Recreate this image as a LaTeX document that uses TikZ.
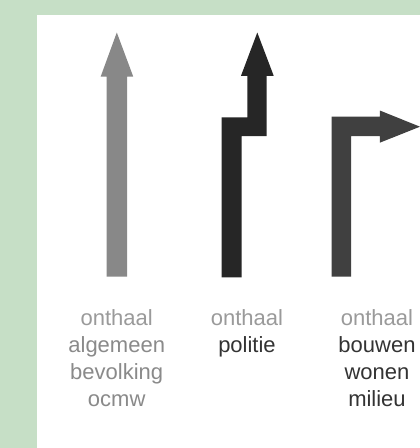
\documentclass[tikz,border=0pt]{standalone}
\usepackage{fontspec}
\setmainfont{Liberation Sans}
\definecolor{bggreen}{HTML}{C6DFC6}
\definecolor{arrowA}{HTML}{888888}
\definecolor{arrowB}{HTML}{262626}
\definecolor{arrowC}{HTML}{404040}
\definecolor{txtlight}{HTML}{9A9A9A}
\definecolor{txtmid}{HTML}{8A8A8A}
\definecolor{txtdark}{HTML}{333333}
\begin{document}
\begin{tikzpicture}[x=1pt,y=-1pt,
  lbl/.style={anchor=base,inner sep=0pt,font=\fontsize{22}{27}\selectfont},
  arr/.style={draw=none}]
\useasboundingbox (0,0) rectangle (420,448);
\fill[bggreen] (0,0) rectangle (420,448);
\fill[white] (36.7,14.7) rectangle (420,448);
% arrow 1
\fill[arrowA] (106.7,276.7) -- (106.7,76.5) -- (100.7,76.5) -- (116.8,32.5) -- (133.2,76.5) -- (127.2,76.5) -- (127.2,276.7) -- cycle;
% arrow 2
\fill[arrowB] (221.7,277.3) -- (221.7,117.3) -- (247.3,117.3) -- (247.3,75.8) -- (241,75.8) -- (257.3,32.5) -- (273.7,75.8) -- (266.7,75.8) -- (266.7,136) -- (241.7,136) -- (241.7,277.3) -- cycle;
% arrow 3
\fill[arrowC] (331.7,276.7) -- (331.7,116.7) -- (379.8,116.7) -- (379.8,110.5) -- (420,126.7) -- (379.8,142.7) -- (379.8,136) -- (351,136) -- (351,276.7) -- cycle;
% labels
\node[lbl,text=txtlight] (a1) at (116.7,325.7) {onthaal};
\node[lbl,text=txtmid] (a2) at (116.7,352.7) {algemeen};
\node[lbl,text=txtmid] (a3) at (116.7,379.7) {bevolking};
\node[lbl,text=txtmid] (a4) at (116.7,406.7) {ocmw};
\node[lbl,text=txtlight] (b1) at (247,325.7) {onthaal};
\node[lbl,text=txtdark] (b2) at (247,352.7) {politie};
\node[lbl,text=txtlight] (c1) at (377,325.7) {onthaal};
\node[lbl,text=txtdark] (c2) at (377,352.7) {bouwen};
\node[lbl,text=txtdark] (c3) at (377,379.7) {wonen};
\node[lbl,text=txtdark] (c4) at (377,406.7) {milieu};
\end{tikzpicture}
\end{document}
